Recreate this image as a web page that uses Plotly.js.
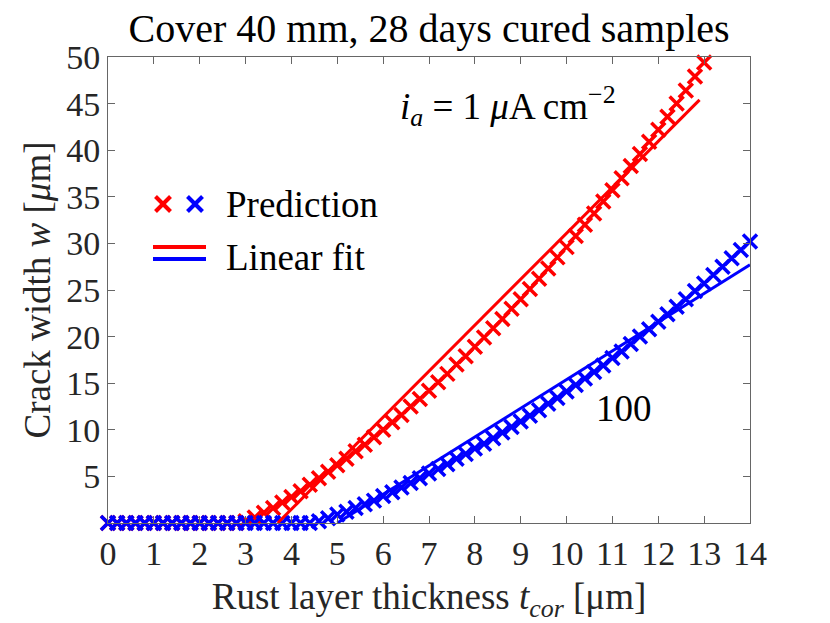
<!DOCTYPE html>
<html>
<head>
<meta charset="utf-8">
<script src="https://cdn.plot.ly/plotly-3.0.1.min.js"></script>
<style>
  html, body { margin: 0; padding: 0; background: #fff; }
  #chart { width: 830px; height: 623px; }
</style>
</head>
<body>
<div id="chart"></div>
<script>
// Crack width vs rust layer thickness, cover 40 mm, 28 days cured

// ── Data ──────────────────────────────────────────────────────────────────────
const redX = [0, 0.2, 0.4, 0.6, 0.8, 1.0, 1.2, 1.4, 1.6, 1.8, 2.0, 2.2, 2.4, 2.6, 2.8,
  3.0, 3.2, 3.4, 3.6, 3.8, 4.0, 4.2, 4.4, 4.6, 4.8, 5.0, 5.2, 5.4, 5.6, 5.8,
  6.0, 6.2, 6.4, 6.6, 6.8, 7.0, 7.2, 7.4, 7.6, 7.8, 8.0, 8.2, 8.4, 8.6, 8.8,
  9.0, 9.2, 9.4, 9.6, 9.8, 10.0, 10.2, 10.4, 10.6, 10.8, 11.0, 11.2, 11.4, 11.6, 11.8,
  12.0, 12.2, 12.4, 12.6, 12.8, 13.0];
const redY = [0, 0, 0, 0, 0, 0, 0, 0, 0, 0, 0, 0, 0, 0, 0,
  0.2, 0.6, 1.1, 1.6, 2.2, 2.8, 3.4, 4.1, 4.8, 5.5, 6.2, 6.9, 7.7, 8.4, 9.2,
  10.0, 10.8, 11.6, 12.5, 13.3, 14.2, 15.1, 16.0, 17.0, 17.9, 18.9, 19.9, 20.9, 21.9, 23.0,
  24.0, 25.1, 26.2, 27.3, 28.5, 29.6, 30.8, 32.0, 33.2, 34.5, 35.7, 37.0, 38.3, 39.6, 40.9,
  42.2, 43.6, 45.0, 46.4, 47.9, 49.4];

const blueX = [0, 0.2, 0.4, 0.6, 0.8, 1.0, 1.2, 1.4, 1.6, 1.8, 2.0, 2.2, 2.4, 2.6, 2.8,
  3.0, 3.2, 3.4, 3.6, 3.8, 4.0, 4.2, 4.4, 4.6, 4.8, 5.0, 5.2, 5.4, 5.6, 5.8,
  6.0, 6.2, 6.4, 6.6, 6.8, 7.0, 7.2, 7.4, 7.6, 7.8, 8.0, 8.2, 8.4, 8.6, 8.8,
  9.0, 9.2, 9.4, 9.6, 9.8, 10.0, 10.2, 10.4, 10.6, 10.8, 11.0, 11.2, 11.4, 11.6, 11.8,
  12.0, 12.2, 12.4, 12.6, 12.8, 13.0, 13.2, 13.4, 13.6, 13.8, 14.0];
const blueY = [0, 0, 0, 0, 0, 0, 0, 0, 0, 0, 0, 0, 0, 0, 0,
  0, 0, 0, 0, 0, 0, 0, 0, 0.2, 0.5, 0.9, 1.2, 1.6, 2.0, 2.4,
  2.9, 3.3, 3.8, 4.3, 4.8, 5.3, 5.8, 6.3, 6.9, 7.4, 8.0, 8.5, 9.1, 9.7, 10.3,
  10.9, 11.5, 12.1, 12.8, 13.4, 14.1, 14.8, 15.5, 16.2, 16.9, 17.7, 18.4, 19.2, 20.0, 20.8,
  21.6, 22.4, 23.2, 24.0, 24.9, 25.7, 26.6, 27.5, 28.4, 29.3, 30.2];

const redFitX  = [3.7, 12.9];
const redFitY  = [0, 45.4];
const blueFitX = [5.0, 14.0];
const blueFitY = [0, 27.7];

const xTicks = [0, 1, 2, 3, 4, 5, 6, 7, 8, 9, 10, 11, 12, 13, 14];
const yTicks = [5, 10, 15, 20, 25, 30, 35, 40, 45, 50];

// ── Style ─────────────────────────────────────────────────────────────────────
const RED  = '#ff0000';
const BLUE = '#0000ff';
const FONT = 'Liberation Serif, Times New Roman, serif';
const FS_TICK  = 34;
const FS_LABEL = 37;
const FS_TITLE = 40;

function crossTrace(x, y, color) {
  return {
    type: 'scatter', mode: 'markers', x, y, cliponaxis: false, showlegend: false,
    marker: { symbol: 'x-thin-open', size: 14, color, line: { color, width: 3.5 } },
    hoverinfo: 'skip',
  };
}
function fitTrace(x, y, color) {
  return {
    type: 'scatter', mode: 'lines', x, y, cliponaxis: false, showlegend: false,
    line: { color, width: 3 }, hoverinfo: 'skip',
  };
}

const traces = [
  crossTrace(redX, redY, RED),
  crossTrace(blueX, blueY, BLUE),
  fitTrace(redFitX, redFitY, RED),
  fitTrace(blueFitX, blueFitY, BLUE),
];

// legend glyphs (paper coords, plot area = 108..750 x 57..523 px)
const px = v => (v - 108) / 642;
const py = v => (523 - v) / 466;
function crossShapes(cx, cy, color) {
  const h = 7.5;
  return [
    { type: 'line', xref: 'paper', yref: 'paper', x0: px(cx - h), x1: px(cx + h), y0: py(cy - h), y1: py(cy + h), line: { color, width: 4 } },
    { type: 'line', xref: 'paper', yref: 'paper', x0: px(cx - h), x1: px(cx + h), y0: py(cy + h), y1: py(cy - h), line: { color, width: 4 } },
  ];
}
const shapes = [
  ...crossShapes(163, 204, RED),
  ...crossShapes(195, 204, BLUE),
  { type: 'line', xref: 'paper', yref: 'paper', x0: px(153), x1: px(206), y0: py(247), y1: py(247), line: { color: RED, width: 4 } },
  { type: 'line', xref: 'paper', yref: 'paper', x0: px(153), x1: px(206), y0: py(259), y1: py(259), line: { color: BLUE, width: 4 } },
];

const annotations = [
  { xref: 'paper', yref: 'paper', x: px(224), y: py(204), xanchor: 'left', yanchor: 'middle',
    text: 'Prediction', showarrow: false, font: { family: FONT, size: FS_LABEL, color: '#000' } },
  { xref: 'paper', yref: 'paper', x: px(224), y: py(257), xanchor: 'left', yanchor: 'middle',
    text: 'Linear fit', showarrow: false, font: { family: FONT, size: FS_LABEL, color: '#000' } },
  { xref: 'paper', yref: 'paper', x: px(508), y: py(106), xanchor: 'center', yanchor: 'middle',
    text: '<i>i</i><sub><i>a</i></sub> = 1 <i>μ</i>A cm<sup>−2</sup>', showarrow: false,
    font: { family: FONT, size: FS_LABEL, color: '#000' } },
  { xref: 'paper', yref: 'paper', x: px(624), y: py(408), xanchor: 'center', yanchor: 'middle',
    text: '100', showarrow: false, font: { family: FONT, size: FS_LABEL, color: '#000' } },
];

const axisCommon = {
  showgrid: false, zeroline: false, showline: true, linecolor: '#666', linewidth: 1,
  mirror: 'ticks', ticks: 'inside', ticklen: 7, tickwidth: 1, tickcolor: '#666',
  tickfont: { family: FONT, size: FS_TICK, color: '#262626' },
};

const layout = {
  width: 830, height: 623,
  margin: { l: 108, r: 80, t: 57, b: 100 },
  paper_bgcolor: '#fff', plot_bgcolor: '#fff',
  title: { text: 'Cover 40 mm, 28 days cured samples', x: 0.517, xanchor: 'center', y: 0.955, yanchor: 'middle',
           font: { family: FONT, size: FS_TITLE, color: '#000' } },
  xaxis: { ...axisCommon, range: [0, 14], tickvals: xTicks,
           title: { text: 'Rust layer thickness <i>t</i><sub><i>cor</i></sub> [μm]', standoff: 14,
                    font: { family: FONT, size: FS_LABEL, color: '#262626' } } },
  yaxis: { ...axisCommon, range: [0, 50], tickvals: yTicks,
           title: { text: 'Crack width <i>w</i> [<i>μ</i>m]', standoff: 4,
                    font: { family: FONT, size: FS_LABEL, color: '#262626' } } },
  shapes, annotations,
  showlegend: false,
};

Plotly.newPlot('chart', traces, layout, { displayModeBar: false, staticPlot: true });
</script>
</body>
</html>
